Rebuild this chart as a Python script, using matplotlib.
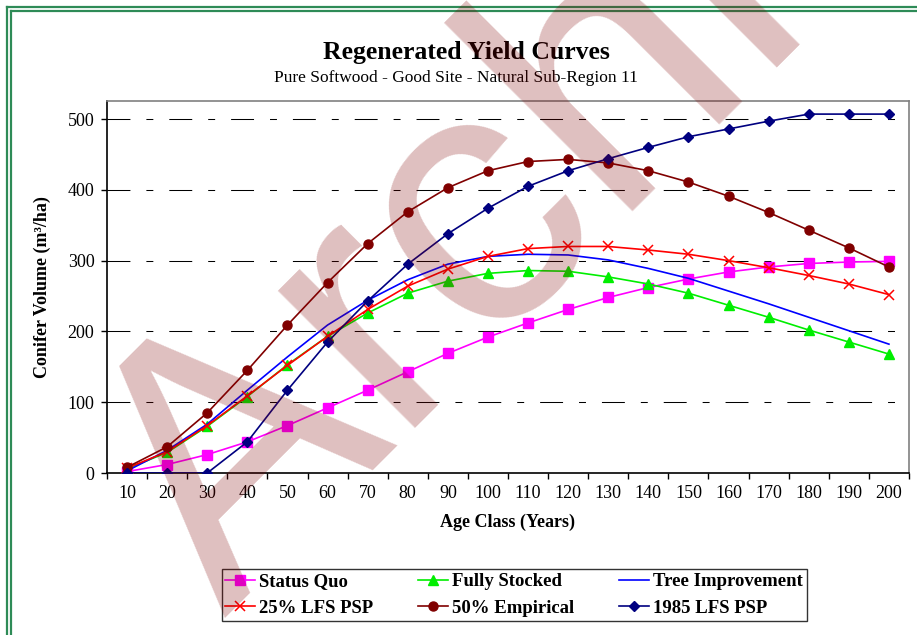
import matplotlib
matplotlib.use("Agg")
import matplotlib.pyplot as plt
from matplotlib.lines import Line2D
from matplotlib.ticker import FixedLocator

ages = [10, 20, 30, 40, 50, 60, 70, 80, 90, 100, 110, 120, 130, 140, 150, 160, 170, 180, 190, 200]

status_quo = [2, 12, 26, 44, 67, 92, 117, 143, 169, 192, 212, 231, 248, 262, 274, 284, 291, 296, 298, 299]
fully_stocked = [6, 29, 66, 108, 153, 193, 226, 254, 271, 282, 286, 285, 277, 267, 254, 237, 220, 202, 185, 168]
tree_improvement = [3, 32, 69, 117, 164, 209, 244, 273, 295, 306, 309, 308, 301, 289, 275, 257, 239, 220, 201, 182]
lfs_25 = [7, 30, 67, 109, 152, 193, 231, 264, 288, 306, 317, 320, 320, 315, 309, 300, 290, 279, 267, 252]
empirical_50 = [8, 37, 85, 145, 209, 269, 324, 369, 403, 427, 440, 443, 438, 427, 411, 391, 368, 343, 318, 291]
lfs_1985 = [0, 0, 0, 44, 117, 185, 243, 295, 338, 374, 405, 427, 444, 460, 475, 486, 497, 507, 507, 507]

W, H = 917, 635
SERIF = ["Liberation Serif", "DejaVu Serif"]

plt.rcParams["font.family"] = SERIF
plt.rcParams["lines.scale_dashes"] = False

fig = plt.figure(figsize=(W / 100, H / 100), dpi=100)

# plot area in pixels: x 107..909, y 101..473
ax = fig.add_axes([107 / W, 1 - 473 / H, 802 / W, 372 / H])

xs = list(range(len(ages)))

series = [
    ("Status Quo", status_quo, dict(color="#FF00FF", marker="s", ms=6.5, mfc="#FF00FF", mec="#FF00FF")),
    ("Fully Stocked", fully_stocked, dict(color="#00EE00", marker="^", ms=7, mfc="#00EE00", mec="#00EE00")),
    ("Tree Improvement", tree_improvement, dict(color="#0000FF", marker=None)),
    ("25% LFS PSP", lfs_25, dict(color="#FF0000", marker="x", ms=7, mew=1.1)),
    ("50% Empirical", empirical_50, dict(color="#800000", marker="o", ms=6.5, mfc="#800000", mec="#800000")),
    ("1985 LFS PSP", lfs_1985, dict(color="#000080", marker="D", ms=5, mfc="#000080", mec="#000080")),
]

handles = {}
for name, vals, kw in series:
    (ln,) = ax.plot(xs, vals, lw=1.2, label=name, zorder=3, **kw)
    handles[name] = ln

ax.set_xlim(-0.5, len(ages) - 0.5)
ax.set_ylim(0, 525.5)

ax.set_yticks([0, 100, 200, 300, 400, 500])
for yv in [100, 200, 300, 400, 500]:
    ax.axhline(yv, color="black", lw=0.75, dashes=(16.5, 11.5, 5, 11.5), zorder=1)

ax.set_xticks(xs)
ax.set_xticklabels([str(a) for a in ages])
ax.xaxis.set_minor_locator(FixedLocator([i - 0.5 for i in range(len(ages) + 1)]))
ax.tick_params(axis="x", which="major", length=0, pad=9, labelsize=13)
ax.tick_params(axis="x", which="minor", length=4, width=1, direction="out")
ax.tick_params(axis="y", length=4, width=1, direction="out", pad=5, labelsize=13)

for side in ["left", "bottom"]:
    ax.spines[side].set_color("black")
    ax.spines[side].set_linewidth(1.2)
for side in ["top", "right"]:
    ax.spines[side].set_color("#808080")
    ax.spines[side].set_linewidth(1.2)

ax.set_xlabel("Age Class (Years)", fontsize=13, fontweight="bold", labelpad=8)
ax.set_ylabel("Conifer Volume (m³/ha)", fontsize=13, fontweight="bold", labelpad=12)

fig.text(466 / W, 1 - 53 / H, "Regenerated Yield Curves", ha="center", va="center",
         fontsize=18.5, fontweight="bold")
fig.text(456 / W, 1 - 78 / H, "Pure Softwood - Good Site - Natural Sub-Region 11", ha="center",
         va="center", fontsize=12.5)

order = ["Status Quo", "25% LFS PSP", "Fully Stocked", "50% Empirical", "Tree Improvement", "1985 LFS PSP"]
leg = fig.legend([handles[n] for n in order], order, ncol=3, loc="center",
                 bbox_to_anchor=(514 / W, 1 - 595 / H), frameon=True, fancybox=False,
                 prop=dict(family=SERIF, weight="bold", size=13.5), handlelength=1.6,
                 handletextpad=0.2, columnspacing=2.4, labelspacing=0.5, borderpad=0.2)
leg.get_frame().set_edgecolor("black")
leg.get_frame().set_linewidth(1.0)

# green double frame round the chart area
for off in [7, 11]:
    fig.add_artist(Line2D([off / W, off / W], [0, 1 - off / H], transform=fig.transFigure,
                          color="#2E8B57", lw=1.6))
    fig.add_artist(Line2D([off / W, 1], [1 - off / H, 1 - off / H], transform=fig.transFigure,
                          color="#2E8B57", lw=1.6))

# watermark
fig.text(224 / W, 1 - 618 / H, "Archived", rotation=45, rotation_mode="anchor", ha="left",
         va="baseline", fontsize=265, family="Liberation Sans", color="#800000", alpha=0.25,
         zorder=10)

fig.savefig("out.png", dpi=100)
